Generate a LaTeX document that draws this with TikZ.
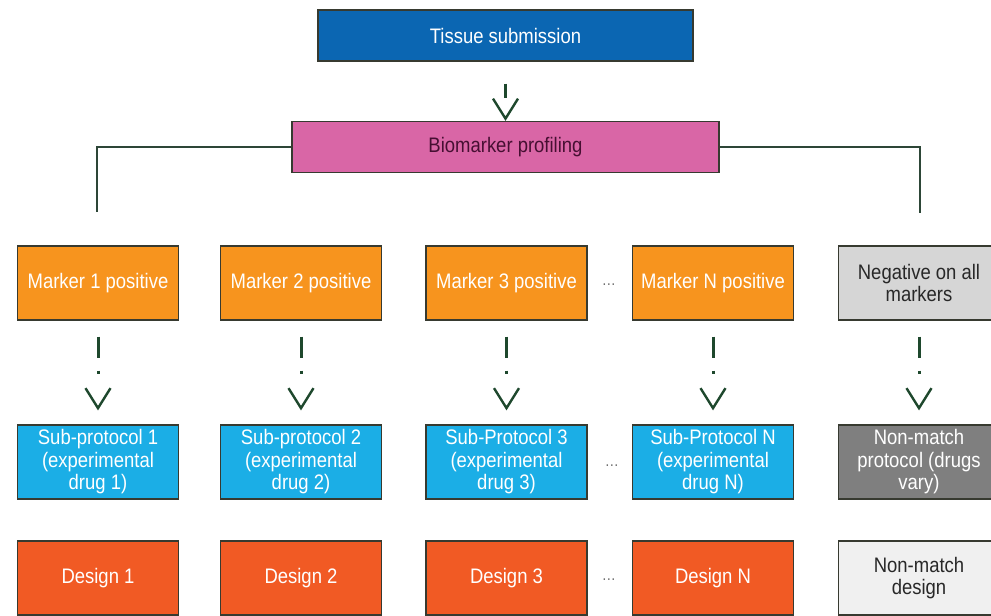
\documentclass[tikz,border=0pt]{standalone}
\usepackage{fontspec}
\setmainfont{Liberation Sans}[FakeStretch=0.88]
\usetikzlibrary{arrows.meta}

\definecolor{tissueblue}{RGB}{11,102,178}
\definecolor{profilepink}{RGB}{217,102,166}
\definecolor{profiletext}{RGB}{70,15,50}
\definecolor{markerorange}{RGB}{247,148,30}
\definecolor{negativegray}{RGB}{214,214,214}
\definecolor{protocolcyan}{RGB}{27,174,230}
\definecolor{nonmatchgray}{RGB}{127,127,127}
\definecolor{designred}{RGB}{241,90,36}
\definecolor{designlight}{RGB}{240,240,240}
\definecolor{framecol}{RGB}{55,58,48}
\definecolor{flowgreen}{RGB}{30,72,45}
\definecolor{linkcol}{RGB}{45,70,55}
\definecolor{darktext}{RGB}{40,40,40}
\definecolor{gapgray}{RGB}{110,110,110}

\tikzset{
  box/.style={draw=framecol, line width=1.2pt, rectangle, align=center,
    inner sep=2pt, font=\fontsize{21}{22.5}\selectfont,
    minimum width=161pt, minimum height=74pt},
  topbox/.style={box, minimum height=51pt},
  flow/.style={draw=flowgreen, line width=3pt,
    -{Straight Barb[length=20pt,width=25pt,line width=2.4pt]}},
  link/.style={draw=linkcol, line width=1.2pt},
  gap/.style={text=gapgray, font=\fontsize{16}{16}\selectfont, inner sep=0pt}
}

\begin{document}
\begin{tikzpicture}[x=1pt, y=-1pt]
\useasboundingbox (0,0) rectangle (991,616);
\clip (0,0) rectangle (991,616);
\fill[white] (0,0) rectangle (991,616);

% top of the flow
\node[topbox, fill=tissueblue, text=white, minimum width=375pt] (tissue) at (505.5,35.5) {Tissue submission};
\node[topbox, fill=profilepink, text=profiletext, minimum width=427pt] (profile) at (505.5,147) {Biomarker profiling};

% marker groups
\node[box, fill=markerorange, text=white] (m1) at (98,283) {Marker 1 positive};
\node[box, fill=markerorange, text=white] (m2) at (301,283) {Marker 2 positive};
\node[box, fill=markerorange, text=white] (m3) at (506.5,283) {Marker 3 positive};
\node[box, fill=markerorange, text=white] (mn) at (713,283) {Marker N positive};
\node[box, fill=negativegray, text=darktext] (neg) at (919,283) {Negative on all\\markers};

% protocols
\node[box, fill=protocolcyan, text=white] (s1) at (98,462) {Sub-protocol 1\\(experimental\\drug 1)};
\node[box, fill=protocolcyan, text=white] (s2) at (301,462) {Sub-protocol 2\\(experimental\\drug 2)};
\node[box, fill=protocolcyan, text=white] (s3) at (506.5,462) {Sub-Protocol 3\\(experimental\\drug 3)};
\node[box, fill=protocolcyan, text=white] (sn) at (713,462) {Sub-Protocol N\\(experimental\\drug N)};
\node[box, fill=nonmatchgray, text=white] (snm) at (919,462) {Non-match\\protocol (drugs\\vary)};

% designs
\node[box, fill=designred, text=white] (d1) at (98,578) {Design 1};
\node[box, fill=designred, text=white] (d2) at (301,578) {Design 2};
\node[box, fill=designred, text=white] (d3) at (506.5,578) {Design 3};
\node[box, fill=designred, text=white] (dn) at (713,578) {Design N};
\node[box, fill=designlight, text=darktext] (dnm) at (919,578) {Non-match\\design};

% ellipses between groups
\node[gap] (g1) at (609,285) {\ldots};
\node[gap] (g2) at (612,466) {\ldots};
\node[gap] (g3) at (609,580) {\ldots};

% branch lines from profiling
\coordinate (lend) at (97,212);
\coordinate (rend) at (920,213);
\draw[link] (profile.west) -| (lend);
\draw[link] (profile.east) -| (rend);

% arrows
\draw[flow, dash pattern=on 14pt off 40pt, shorten <=22pt] (tissue) -- (profile);
\foreach \a/\b in {m1/s1, m2/s2, m3/s3, mn/sn, neg/snm}{
  \draw[flow, dash pattern=on 21pt off 13pt on 3.5pt off 60pt,
        shorten <=16pt, shorten >=14pt] (\a) -- (\b);
}
\end{tikzpicture}
\end{document}
